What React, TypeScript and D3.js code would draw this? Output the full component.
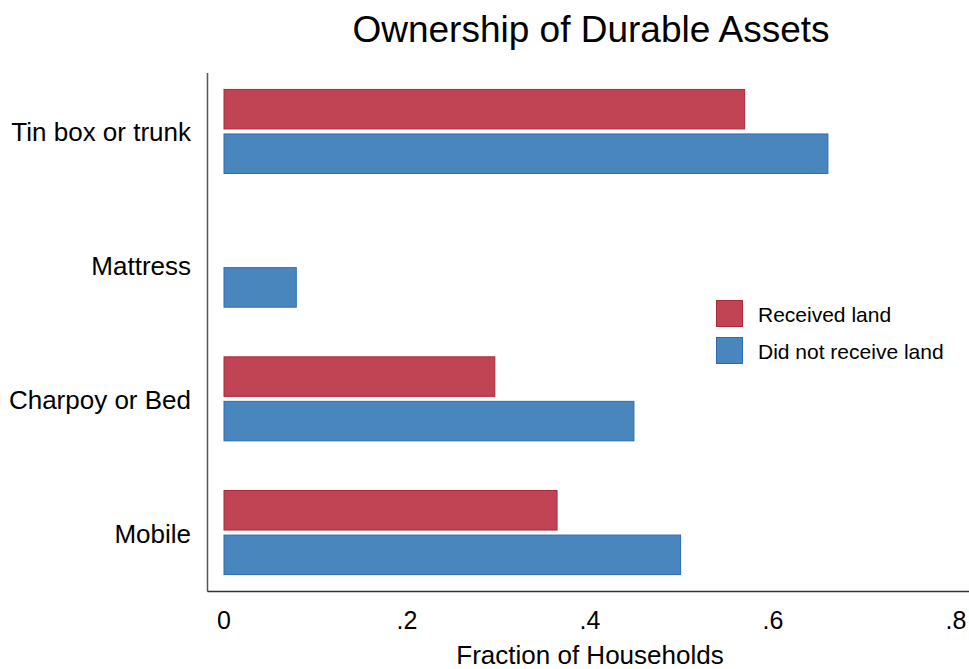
import * as d3 from "d3";

const categories = ["Tin box or trunk", "Mattress", "Charpoy or Bed", "Mobile"];
const seriesNames = ["Received land", "Did not receive land"];
const receivedLand = [0.569, 0, 0.296, 0.364];
const notReceivedLand = [0.66, 0.079, 0.448, 0.499];
const xTicks = [0, 0.2, 0.4, 0.6, 0.8];
const xTickLabels = ["0", ".2", ".4", ".6", ".8"];

const fills = ["#c04454", "#4a86be"];
const strokes = ["#b0263a", "#2a6db4"];

export default function App() {
  const width = 969;
  const height = 669;
  const font = "'Liberation Sans', Arial, Helvetica, sans-serif";

  // x scale: 0 -> 224px, .8 -> 956px
  const x = d3.scaleLinear().domain([0, 0.8]).range([224, 956]);
  // groups (categories)
  const y = d3
    .scaleBand<string>()
    .domain(categories)
    .range([64.6, 599.4])
    .paddingInner(0.364)
    .paddingOuter(0.182);
  // bars inside a group
  const ySub = d3
    .scaleBand<string>()
    .domain(seriesNames)
    .range([0, y.bandwidth()])
    .paddingInner(0.09);

  const values = [receivedLand, notReceivedLand];

  const axisX = 207.5;
  const axisY = 591.5;

  return (
    <svg
      width={width}
      height={height}
      style={{ position: "absolute", left: 0, top: 0, background: "#fff" }}
      fontFamily={font}
    >
      <rect x={0} y={0} width={width} height={height} fill="#fff" />
      <text x={591} y={42} fontSize={37} textAnchor="middle" fill="#000">
        Ownership of Durable Assets
      </text>

      {/* bars */}
      {categories.map((c, i) => (
        <g key={c} transform={`translate(0,${y(c)})`}>
          {seriesNames.map((s, j) =>
            values[j][i] > 0 ? (
              <rect
                key={s}
                x={x(0)}
                y={ySub(s)! + 0.5}
                width={x(values[j][i]) - x(0)}
                height={ySub.bandwidth() - 1}
                fill={fills[j]}
                stroke={strokes[j]}
                strokeWidth={1}
              />
            ) : null
          )}
          <text
            x={191}
            y={y.bandwidth() / 2 + 10}
            fontSize={26}
            textAnchor="end"
            fill="#000"
          >
            {c}
          </text>
        </g>
      ))}

      {/* axes */}
      <line x1={axisX} y1={73} x2={axisX} y2={axisY} stroke="#555" strokeWidth={1.5} />
      <line x1={axisX} y1={axisY} x2={width} y2={axisY} stroke="#333" strokeWidth={1.5} />
      {xTicks.map((t, i) => (
        <text
          key={t}
          x={x(t)}
          y={629}
          fontSize={25}
          textAnchor="middle"
          fill="#000"
        >
          {xTickLabels[i]}
        </text>
      ))}
      <text x={590} y={664} fontSize={26} textAnchor="middle" fill="#000">
        Fraction of Households
      </text>

      {/* legend */}
      {seriesNames.map((s, j) => (
        <g key={s} transform={`translate(716,${300 + j * 37})`}>
          <rect
            x={0.5}
            y={0.5}
            width={26}
            height={26}
            fill={fills[j]}
            stroke={strokes[j]}
            strokeWidth={1}
          />
          <text x={42} y={21.5} fontSize={21} fill="#000">
            {s}
          </text>
        </g>
      ))}
    </svg>
  );
}
